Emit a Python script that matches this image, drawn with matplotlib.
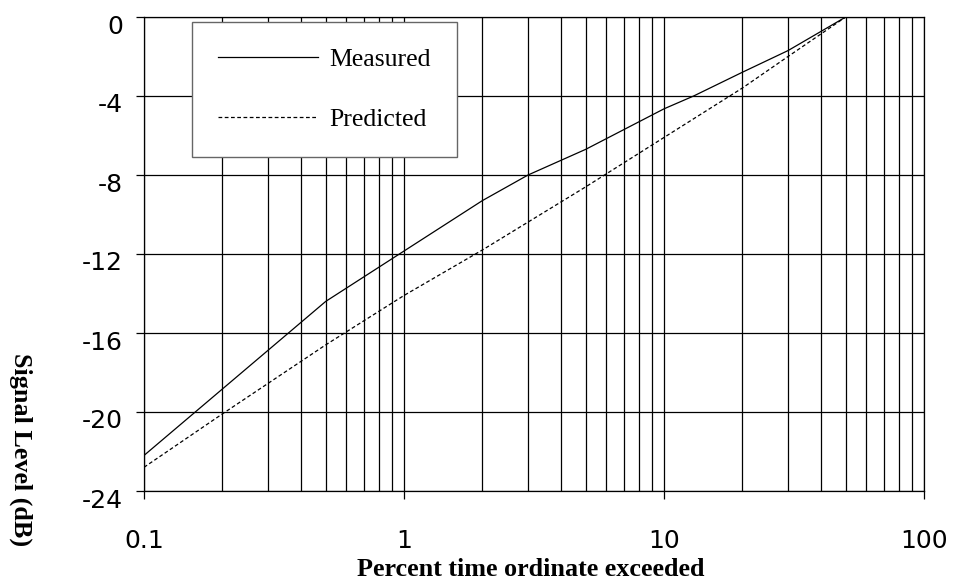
import matplotlib
matplotlib.use("Agg")
import matplotlib.pyplot as plt
import matplotlib.transforms as mtransforms
from matplotlib.ticker import FixedLocator, NullFormatter, LogLocator

# Data
measured_x = [0.1, 0.5, 1, 2, 3, 5, 10, 13, 20, 30, 50]
measured_y = [-22.2, -14.4, -11.85, -9.3, -8.0, -6.7, -4.65, -4.0, -2.8, -1.7, 0.0]
predicted_x = [0.1, 0.2, 0.5, 1, 2, 5, 10, 20, 30, 50]
predicted_y = [-22.8, -20.1, -16.6, -14.1, -11.8, -8.6, -6.1, -3.6, -2.0, 0.0]
xticks = [0.1, 1, 10, 100]
xticklabels = ["0.1", "1", "10", "100"]
yticks = [-24, -20, -16, -12, -8, -4, 0]
yticklabels = ["-24", "-20", "-16", "-12", "-8", "-4", "0"]

fig = plt.figure(figsize=(9.54, 5.88), dpi=100)
ax = fig.add_axes([144/954, 1-491/588, 780/954, 474/588])

ax.set_xscale("log")
ax.set_xlim(0.1, 100)
ax.set_ylim(-24, 0)

ax.plot(measured_x, measured_y, color="black", lw=0.9, label="Measured")
ax.plot(predicted_x, predicted_y, color="black", lw=0.9, ls=(0, (3, 2)), label="Predicted")

ax.xaxis.set_major_locator(FixedLocator(xticks))
ax.set_xticklabels(xticklabels)
ax.xaxis.set_minor_locator(LogLocator(base=10, subs=range(2, 10)))
ax.xaxis.set_minor_formatter(NullFormatter())
ax.set_yticks(yticks)
ax.set_yticklabels(yticklabels)

ax.grid(True, which="both", axis="x", color="black", lw=0.9)
ax.grid(True, which="major", axis="y", color="black", lw=0.9)
ax.tick_params(axis="x", which="minor", length=0)
ax.tick_params(axis="both", which="major", direction="out", length=6, width=0.9,
               labelsize=18)
ax.tick_params(axis="x", which="major", pad=21)
ax.tick_params(axis="y", which="major", pad=9)
offset = mtransforms.ScaledTranslation(0, -7/100, fig.dpi_scale_trans)
for lab in ax.get_xticklabels() + ax.get_yticklabels():
    lab.set_fontfamily(["DejaVu Sans"])
for lab in ax.get_yticklabels():
    lab.set_transform(lab.get_transform() + offset)
for s in ax.spines.values():
    s.set_linewidth(0.9)

leg = ax.legend(loc="upper left", bbox_to_anchor=((192-144)/780, (491-22)/474),
                frameon=True, fancybox=False, shadow=False, framealpha=1,
                edgecolor="#666666", prop={"family": "Liberation Serif", "size": 18.5},
                handlelength=3.9, handletextpad=0.45, labelspacing=1.47,
                borderpad=1.0, borderaxespad=0)
leg.get_frame().set_linewidth(1.0)

fig.text(531/954, 1-569/588, "Percent time ordinate exceeded", ha="center", va="center",
         family="Liberation Serif", weight="bold", fontsize=18.8)
fig.text(21/954, 1-450/588, "Signal Level (dB)", ha="center", va="center", rotation=270,
         family="Liberation Serif", weight="bold", fontsize=18.8)

fig.savefig("out.png", dpi=100)
